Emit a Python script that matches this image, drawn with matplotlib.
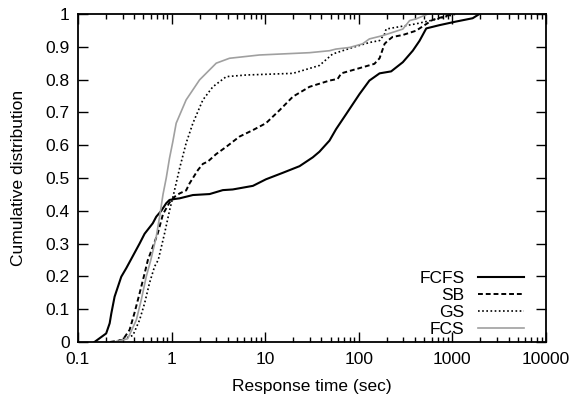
import matplotlib
matplotlib.use('Agg')
import matplotlib.pyplot as plt
from matplotlib.ticker import FixedLocator, LogLocator, NullFormatter

plt.rcParams['font.family'] = ['Liberation Sans', 'DejaVu Sans']

# response time (sec) / cumulative fraction
fcfs_x = [0.15, 0.20, 0.218, 0.227, 0.246, 0.29, 0.328, 0.455, 0.515, 0.63, 0.686, 0.776,
          0.877, 0.95, 1.08, 1.22, 1.69, 2.55, 3.53, 4.5, 7.4, 10.2, 15.5, 23.3, 32.3, 38,
          48.7, 57.3, 73.5, 102, 130, 167, 222, 296, 378, 446, 527, 730, 1100, 1650, 1950]
fcfs_y = [0, 0.026, 0.057, 0.087, 0.138, 0.199, 0.225, 0.30, 0.33, 0.362, 0.382, 0.40,
          0.423, 0.433, 0.436, 0.438, 0.448, 0.451, 0.463, 0.465, 0.476, 0.496, 0.516, 0.536,
          0.563, 0.58, 0.614, 0.649, 0.695, 0.756, 0.797, 0.819, 0.825, 0.853, 0.888, 0.918,
          0.956, 0.966, 0.977, 0.987, 1.0]

sb_x = [0.22, 0.30, 0.356, 0.40, 0.455, 0.515, 0.558, 0.63, 0.71, 0.81, 0.95, 1.08, 1.22,
        1.43, 1.56, 1.91, 2.16, 2.44, 3.0, 3.84, 5.3, 7.4, 10.2, 14.3, 19.8, 29.8, 48.7,
        59.6, 65, 94, 147, 167, 189, 205, 230, 296, 410, 616, 1010]
sb_y = [0, 0.006, 0.037, 0.087, 0.148, 0.209, 0.25, 0.29, 0.33, 0.39, 0.425, 0.443, 0.453,
        0.462, 0.484, 0.524, 0.543, 0.55, 0.573, 0.595, 0.626, 0.646, 0.667, 0.707, 0.748,
        0.778, 0.797, 0.802, 0.819, 0.832, 0.848, 0.865, 0.909, 0.919, 0.93, 0.936, 0.949,
        0.982, 1.0]

gs_x = [0.25, 0.386, 0.455, 0.515, 0.58, 0.658, 0.72, 0.84, 0.95, 1.05, 1.22, 1.43, 1.69,
        2.16, 2.76, 3.84, 6.3, 19.8, 29.8, 38, 52.6, 86, 130, 167, 189, 196, 410, 700, 1100]
gs_y = [0, 0.02, 0.067, 0.118, 0.179, 0.23, 0.25, 0.33, 0.40, 0.45, 0.53, 0.606, 0.667,
        0.738, 0.778, 0.809, 0.814, 0.819, 0.834, 0.843, 0.878, 0.898, 0.913, 0.919, 0.939,
        0.954, 0.97, 0.985, 1.0]

fcs_x = [0.25, 0.34, 0.42, 0.474, 0.537, 0.60, 0.686, 0.745, 0.81, 0.877, 0.95, 1.03, 1.12,
         1.43, 1.99, 3.0, 4.16, 8.7, 29.8, 48.7, 57, 80, 110, 130, 180, 296, 350, 410, 550]
fcs_y = [0, 0.01, 0.067, 0.128, 0.2, 0.25, 0.321, 0.382, 0.45, 0.5, 0.56, 0.61, 0.667,
         0.738, 0.799, 0.85, 0.865, 0.875, 0.882, 0.888, 0.893, 0.898, 0.909, 0.924, 0.934,
         0.954, 0.98, 0.985, 1.0]

x_ticks = [0.1, 1, 10, 100, 1000, 10000]
x_labels = ['0.1', '1', '10', '100', '1000', '10000']
y_ticks = [i / 10 for i in range(11)]
y_labels = ['0', '0.1', '0.2', '0.3', '0.4', '0.5', '0.6', '0.7', '0.8', '0.9', '1']

fs = 12.5
fig = plt.figure(figsize=(5.71, 4.03), dpi=100)
ax = fig.add_axes([0.1366, 0.1514, 0.8194, 0.8139])

ax.plot(fcfs_x, fcfs_y, color='black', lw=1.5, label='FCFS')
ax.plot(sb_x, sb_y, color='black', lw=1.4, ls=(0, (2.5, 1.5)), label='SB')
ax.plot(gs_x, gs_y, color='black', lw=1.2, ls=(0, (1, 1.5)), label='GS')
ax.plot(fcs_x, fcs_y, color='#a0a0a0', lw=1.2, label='FCS')

ax.set_xscale('log')
ax.set_xlim(0.1, 10000)
ax.set_ylim(0, 1)
ax.xaxis.set_major_locator(FixedLocator(x_ticks))
ax.set_xticklabels(x_labels)
ax.xaxis.set_minor_locator(LogLocator(base=10, subs=(2, 3, 4, 5, 6, 7, 8, 9)))
ax.xaxis.set_minor_formatter(NullFormatter())
ax.set_yticks(y_ticks)
ax.set_yticklabels(y_labels)

ax.tick_params(which='both', direction='in', top=True, right=True, labelsize=fs, width=1)
ax.tick_params(which='major', length=7)
ax.tick_params(axis='x', which='major', pad=7)
ax.tick_params(axis='y', which='major', pad=6)
ax.tick_params(which='minor', length=3.5)
for s in ax.spines.values():
    s.set_linewidth(1.3)

ax.set_xlabel('Response time (sec)', fontsize=fs, labelpad=9)
ax.set_ylabel('Cumulative distribution', fontsize=fs, labelpad=14)

leg = ax.legend(loc='lower right', bbox_to_anchor=(0.958, 0.01), markerfirst=False,
                frameon=False, fontsize=fs, handlelength=2.7, labelspacing=0.11,
                borderpad=0.1, borderaxespad=0.0, handletextpad=0.75)
for t in leg.get_texts():
    t.set_ha('right')

fig.savefig('out.png', dpi=100)
